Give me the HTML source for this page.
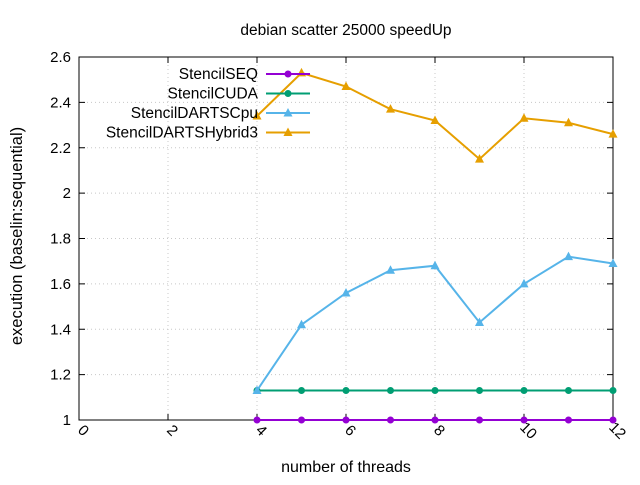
<!DOCTYPE html>
<html><head><meta charset="utf-8"><style>
body{margin:0;background:#fff;}
svg{font-family:"Liberation Sans",sans-serif;}
</style></head><body>
<svg id="chart" width="640" height="480" xmlns="http://www.w3.org/2000/svg">
<text x="346" y="35" font-size="15.5" text-anchor="middle">debian scatter 25000 speedUp</text>
<text x="346" y="472" font-size="16" text-anchor="middle">number of threads</text>
<text transform="translate(22,236) rotate(-90)" font-size="16.5" text-anchor="middle">execution (baselin:sequential)</text>
<g id="grid"></g><g id="axes"></g><g id="series"></g><g id="legend"></g>
</svg>
<script>
const xTicks=[0,2,4,6,8,10,12];
const yTicks=[1,1.2,1.4,1.6,1.8,2,2.2,2.4,2.6];
const threads=[4,5,6,7,8,9,10,11,12];
const seqValues=[1,1,1,1,1,1,1,1,1];
const cudaValues=[1.13,1.13,1.13,1.13,1.13,1.13,1.13,1.13,1.13];
const cpuValues=[1.13,1.42,1.56,1.66,1.68,1.43,1.60,1.72,1.69];
const hybridValues=[2.34,2.53,2.47,2.37,2.32,2.15,2.33,2.31,2.26];
const seriesNames=["StencilSEQ","StencilCUDA","StencilDARTSCpu","StencilDARTSHybrid3"];
const L=79,R=613,T=57,B=420;
const xs=v=>L+(v-0)/(12-0)*(R-L);
const ys=v=>B-(v-1)/(2.6-1)*(B-T);
const NS="http://www.w3.org/2000/svg";
function mk(tag,attrs,parent){const e=document.createElementNS(NS,tag);for(const k in attrs)e.setAttribute(k,attrs[k]);parent.appendChild(e);return e;}
const grid=document.getElementById('grid'),axes=document.getElementById('axes');
yTicks.forEach(t=>{
  const y=ys(t);
  if(t>1&&t<2.6){const g=mk('line',{x1:L,x2:R,y1:y,y2:y,stroke:'#c8c8c8','stroke-dasharray':'1,3'},grid);
  
  }
  mk('line',{x1:L,x2:L+6,y1:y,y2:y,stroke:'#000'},axes);
  mk('line',{x1:R,x2:R-6,y1:y,y2:y,stroke:'#000'},axes);
  const tx=mk('text',{x:L-8,y:y+5,'font-size':'15','text-anchor':'end'},axes);
  tx.textContent=String(t);
  
  
});
xTicks.forEach(t=>{
  const x=xs(t);
  if(t>0&&t<12){const g=mk('line',{x1:x,x2:x,y1:T,y2:B,stroke:'#c8c8c8','stroke-dasharray':'1,3'},grid);
  
  }
  mk('line',{x1:x,x2:x,y1:B,y2:B-6,stroke:'#000'},axes);
  mk('line',{x1:x,x2:x,y1:T,y2:T+6,stroke:'#000'},axes);
  const tx=mk('text',{transform:`translate(${x+1},${B+14}) rotate(45)`,'font-size':'15','text-anchor':'middle'},axes);
  tx.textContent=String(t);
  
  
});
const frame=mk('rect',{x:L,y:T,width:R-L,height:B-T,fill:'none',stroke:'#000'},axes);


const series=[[seqValues,'#9400d3','circle'],[cudaValues,'#009e73','circle'],[cpuValues,'#56b4e9','tri'],[hybridValues,'#e69f00','tri']];
const sg=document.getElementById('series'),lg=document.getElementById('legend');
function marker(x,y,shape,c,p){
  if(shape==='circle')return mk('circle',{cx:x,cy:y,r:3.5,fill:c},p);
  return mk('polygon',{points:`${x},${y-5} ${x-4.5},${y+3.5} ${x+4.5},${y+3.5}`,fill:c},p);
}
series.forEach((s,i)=>{
  const [vals,c,shape]=s;
  const g=mk('g',{},sg);
  
  
  mk('polyline',{points:threads.map((t,j)=>xs(t)+','+ys(vals[j])).join(' '),fill:'none',stroke:c,'stroke-width':2},g);
  threads.forEach((t,j)=>{const m=marker(xs(t),ys(vals[j]),shape,c,g);
    
    });
  const ly=74+i*19.5;
  const le=mk('g',{},lg);
  
  
  const t=mk('text',{x:258,y:ly+5,'font-size':'15.5','text-anchor':'end'},le);t.textContent=seriesNames[i];
  mk('line',{x1:266,x2:310,y1:ly,y2:ly,stroke:c,'stroke-width':2},le);
  marker(288,ly,shape,c,le);
});
</script>
</body></html>
